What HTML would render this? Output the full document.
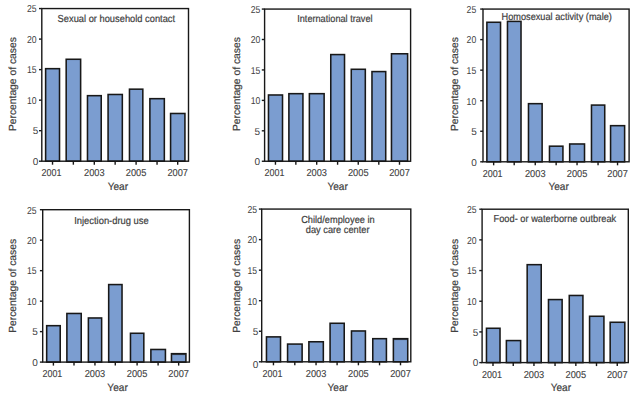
<!DOCTYPE html>
<html><head><meta charset="utf-8"><style>
html,body{margin:0;padding:0;background:#fff;width:641px;height:397px;overflow:hidden}
svg{display:block}
text{font-family:"Liberation Sans",sans-serif;text-rendering:geometricPrecision;fill:#404040;stroke:#404040;stroke-width:0.2px}
.t{stroke-width:0px}
.tx{stroke-width:0.12px}
</style></head><body>
<svg width="641" height="397" viewBox="0 0 641 397">

<rect x="45.62" y="68.67" width="13.9" height="92.52" fill="#7b9dd0" stroke="#181818" stroke-width="1.55"/>
<rect x="66.18" y="59.27" width="14.45" height="101.92" fill="#7b9dd0" stroke="#181818" stroke-width="1.55"/>
<rect x="87.48" y="95.67" width="13.75" height="65.52" fill="#7b9dd0" stroke="#181818" stroke-width="1.55"/>
<rect x="108.08" y="94.48" width="14.25" height="66.72" fill="#7b9dd0" stroke="#181818" stroke-width="1.55"/>
<rect x="129.47" y="89.17" width="13.35" height="72.02" fill="#7b9dd0" stroke="#181818" stroke-width="1.55"/>
<rect x="149.88" y="98.67" width="14.45" height="62.52" fill="#7b9dd0" stroke="#181818" stroke-width="1.55"/>
<rect x="170.58" y="113.48" width="14.35" height="47.72" fill="#7b9dd0" stroke="#181818" stroke-width="1.55"/>
<rect x="41.8" y="8.56" width="146.7" height="152.64" fill="none" stroke="#181818" stroke-width="1.4"/>
<line x1="39" y1="161.2" x2="41.8" y2="161.2" stroke="#181818" stroke-width="1.4"/>
<text class="t" x="38.2" y="165" font-size="10.0" text-anchor="end">0</text>
<line x1="39" y1="130.67" x2="41.8" y2="130.67" stroke="#181818" stroke-width="1.4"/>
<text class="t" x="38.2" y="134.47" font-size="10.0" text-anchor="end">5</text>
<line x1="39" y1="100.14" x2="41.8" y2="100.14" stroke="#181818" stroke-width="1.4"/>
<text class="t" x="36.6" y="103.94" font-size="10.0" text-anchor="end" textLength="9.6" lengthAdjust="spacingAndGlyphs">10</text>
<line x1="39" y1="69.62" x2="41.8" y2="69.62" stroke="#181818" stroke-width="1.4"/>
<text class="t" x="36.6" y="73.42" font-size="10.0" text-anchor="end" textLength="9.6" lengthAdjust="spacingAndGlyphs">15</text>
<line x1="39" y1="39.09" x2="41.8" y2="39.09" stroke="#181818" stroke-width="1.4"/>
<text class="t" x="36.6" y="42.89" font-size="10.0" text-anchor="end" textLength="9.6" lengthAdjust="spacingAndGlyphs">20</text>
<line x1="39" y1="8.56" x2="41.8" y2="8.56" stroke="#181818" stroke-width="1.4"/>
<text class="t" x="36.6" y="12.36" font-size="10.0" text-anchor="end" textLength="9.6" lengthAdjust="spacingAndGlyphs">25</text>
<line x1="52.53" y1="161.2" x2="52.53" y2="164.7" stroke="#181818" stroke-width="1.4"/>
<text class="tx" x="51.53" y="176.2" font-size="10" text-anchor="middle" textLength="19.9" lengthAdjust="spacingAndGlyphs">2001</text>
<line x1="73.35" y1="161.2" x2="73.35" y2="164.7" stroke="#181818" stroke-width="1.4"/>
<line x1="94.3" y1="161.2" x2="94.3" y2="164.7" stroke="#181818" stroke-width="1.4"/>
<text class="tx" x="94.3" y="176.2" font-size="10" text-anchor="middle" textLength="20.6" lengthAdjust="spacingAndGlyphs">2003</text>
<line x1="115.15" y1="161.2" x2="115.15" y2="164.7" stroke="#181818" stroke-width="1.4"/>
<line x1="136.1" y1="161.2" x2="136.1" y2="164.7" stroke="#181818" stroke-width="1.4"/>
<text class="tx" x="136.1" y="176.2" font-size="10" text-anchor="middle" textLength="20.6" lengthAdjust="spacingAndGlyphs">2005</text>
<line x1="157.05" y1="161.2" x2="157.05" y2="164.7" stroke="#181818" stroke-width="1.4"/>
<line x1="177.7" y1="161.2" x2="177.7" y2="164.7" stroke="#181818" stroke-width="1.4"/>
<text class="tx" x="177.7" y="176.2" font-size="10" text-anchor="middle" textLength="20.6" lengthAdjust="spacingAndGlyphs">2007</text>
<text x="117.9" y="189.5" font-size="10.6" text-anchor="middle" textLength="20.4" lengthAdjust="spacingAndGlyphs">Year</text>
<text transform="translate(15.6,131.1) rotate(-90)" font-size="10.3">Percentage of cases</text>
<text x="57.6" y="22" font-size="10.2" textLength="117.5" lengthAdjust="spacingAndGlyphs">Sexual or household contact</text>
<rect x="268.47" y="94.98" width="14.05" height="66.27" fill="#7b9dd0" stroke="#181818" stroke-width="1.55"/>
<rect x="288.88" y="93.67" width="14.05" height="67.58" fill="#7b9dd0" stroke="#181818" stroke-width="1.55"/>
<rect x="309.38" y="93.67" width="14.75" height="67.58" fill="#7b9dd0" stroke="#181818" stroke-width="1.55"/>
<rect x="330.77" y="54.57" width="13.75" height="106.67" fill="#7b9dd0" stroke="#181818" stroke-width="1.55"/>
<rect x="351.27" y="69.28" width="14.05" height="91.97" fill="#7b9dd0" stroke="#181818" stroke-width="1.55"/>
<rect x="371.97" y="71.58" width="13.75" height="89.67" fill="#7b9dd0" stroke="#181818" stroke-width="1.55"/>
<rect x="391.47" y="53.77" width="16.15" height="107.47" fill="#7b9dd0" stroke="#181818" stroke-width="1.55"/>
<rect x="264.6" y="9.07" width="146" height="152.18" fill="none" stroke="#181818" stroke-width="1.4"/>
<line x1="261.8" y1="161.25" x2="264.6" y2="161.25" stroke="#181818" stroke-width="1.4"/>
<text class="t" x="260" y="165.05" font-size="10.0" text-anchor="end">0</text>
<line x1="261.8" y1="130.81" x2="264.6" y2="130.81" stroke="#181818" stroke-width="1.4"/>
<text class="t" x="260" y="134.61" font-size="10.0" text-anchor="end">5</text>
<line x1="261.8" y1="100.38" x2="264.6" y2="100.38" stroke="#181818" stroke-width="1.4"/>
<text class="t" x="260.4" y="104.18" font-size="10.0" text-anchor="end" textLength="9.6" lengthAdjust="spacingAndGlyphs">10</text>
<line x1="261.8" y1="69.94" x2="264.6" y2="69.94" stroke="#181818" stroke-width="1.4"/>
<text class="t" x="260.4" y="73.74" font-size="10.0" text-anchor="end" textLength="9.6" lengthAdjust="spacingAndGlyphs">15</text>
<line x1="261.8" y1="39.51" x2="264.6" y2="39.51" stroke="#181818" stroke-width="1.4"/>
<text class="t" x="260.4" y="43.31" font-size="10.0" text-anchor="end" textLength="9.6" lengthAdjust="spacingAndGlyphs">20</text>
<line x1="261.8" y1="9.07" x2="264.6" y2="9.07" stroke="#181818" stroke-width="1.4"/>
<text class="t" x="260.4" y="12.87" font-size="10.0" text-anchor="end" textLength="9.6" lengthAdjust="spacingAndGlyphs">25</text>
<line x1="275.45" y1="161.25" x2="275.45" y2="164.75" stroke="#181818" stroke-width="1.4"/>
<text class="tx" x="274.45" y="176.25" font-size="10" text-anchor="middle" textLength="19.9" lengthAdjust="spacingAndGlyphs">2001</text>
<line x1="295.85" y1="161.25" x2="295.85" y2="164.75" stroke="#181818" stroke-width="1.4"/>
<line x1="316.7" y1="161.25" x2="316.7" y2="164.75" stroke="#181818" stroke-width="1.4"/>
<text class="tx" x="316.7" y="176.25" font-size="10" text-anchor="middle" textLength="20.6" lengthAdjust="spacingAndGlyphs">2003</text>
<line x1="337.6" y1="161.25" x2="337.6" y2="164.75" stroke="#181818" stroke-width="1.4"/>
<line x1="358.25" y1="161.25" x2="358.25" y2="164.75" stroke="#181818" stroke-width="1.4"/>
<text class="tx" x="358.25" y="176.25" font-size="10" text-anchor="middle" textLength="20.6" lengthAdjust="spacingAndGlyphs">2005</text>
<line x1="378.8" y1="161.25" x2="378.8" y2="164.75" stroke="#181818" stroke-width="1.4"/>
<line x1="399.5" y1="161.25" x2="399.5" y2="164.75" stroke="#181818" stroke-width="1.4"/>
<text class="tx" x="399.5" y="176.25" font-size="10" text-anchor="middle" textLength="20.6" lengthAdjust="spacingAndGlyphs">2007</text>
<text x="337.6" y="189.5" font-size="10.6" text-anchor="middle" textLength="20.4" lengthAdjust="spacingAndGlyphs">Year</text>
<text transform="translate(240.4,131.1) rotate(-90)" font-size="10.3">Percentage of cases</text>
<text x="297.2" y="22.4" font-size="10.2" textLength="75.4" lengthAdjust="spacingAndGlyphs">International travel</text>
<rect x="486.88" y="22.27" width="13.65" height="139.53" fill="#7b9dd0" stroke="#181818" stroke-width="1.55"/>
<rect x="507.47" y="21.38" width="13.55" height="140.43" fill="#7b9dd0" stroke="#181818" stroke-width="1.55"/>
<rect x="528.48" y="103.67" width="13.65" height="58.13" fill="#7b9dd0" stroke="#181818" stroke-width="1.55"/>
<rect x="549.48" y="146.18" width="13.45" height="15.63" fill="#7b9dd0" stroke="#181818" stroke-width="1.55"/>
<rect x="569.67" y="143.98" width="14.85" height="17.82" fill="#7b9dd0" stroke="#181818" stroke-width="1.55"/>
<rect x="591.48" y="105.08" width="13.25" height="56.73" fill="#7b9dd0" stroke="#181818" stroke-width="1.55"/>
<rect x="610.57" y="125.67" width="14.05" height="36.13" fill="#7b9dd0" stroke="#181818" stroke-width="1.55"/>
<rect x="483" y="9.07" width="146.1" height="152.73" fill="none" stroke="#181818" stroke-width="1.4"/>
<line x1="480.2" y1="161.8" x2="483" y2="161.8" stroke="#181818" stroke-width="1.4"/>
<text class="t" x="476.8" y="165.6" font-size="10.0" text-anchor="end">0</text>
<line x1="480.2" y1="131.25" x2="483" y2="131.25" stroke="#181818" stroke-width="1.4"/>
<text class="t" x="476.8" y="135.05" font-size="10.0" text-anchor="end">5</text>
<line x1="480.2" y1="100.71" x2="483" y2="100.71" stroke="#181818" stroke-width="1.4"/>
<text class="t" x="476.2" y="104.51" font-size="10.0" text-anchor="end" textLength="9.6" lengthAdjust="spacingAndGlyphs">10</text>
<line x1="480.2" y1="70.16" x2="483" y2="70.16" stroke="#181818" stroke-width="1.4"/>
<text class="t" x="476.2" y="73.96" font-size="10.0" text-anchor="end" textLength="9.6" lengthAdjust="spacingAndGlyphs">15</text>
<line x1="480.2" y1="39.62" x2="483" y2="39.62" stroke="#181818" stroke-width="1.4"/>
<text class="t" x="476.2" y="43.42" font-size="10.0" text-anchor="end" textLength="9.6" lengthAdjust="spacingAndGlyphs">20</text>
<line x1="480.2" y1="9.07" x2="483" y2="9.07" stroke="#181818" stroke-width="1.4"/>
<text class="t" x="476.2" y="12.87" font-size="10.0" text-anchor="end" textLength="9.6" lengthAdjust="spacingAndGlyphs">25</text>
<line x1="493.65" y1="161.8" x2="493.65" y2="165.3" stroke="#181818" stroke-width="1.4"/>
<text class="tx" x="492.65" y="176.8" font-size="10" text-anchor="middle" textLength="19.9" lengthAdjust="spacingAndGlyphs">2001</text>
<line x1="514.2" y1="161.8" x2="514.2" y2="165.3" stroke="#181818" stroke-width="1.4"/>
<line x1="535.25" y1="161.8" x2="535.25" y2="165.3" stroke="#181818" stroke-width="1.4"/>
<text class="tx" x="535.25" y="176.8" font-size="10" text-anchor="middle" textLength="20.6" lengthAdjust="spacingAndGlyphs">2003</text>
<line x1="556.15" y1="161.8" x2="556.15" y2="165.3" stroke="#181818" stroke-width="1.4"/>
<line x1="577.05" y1="161.8" x2="577.05" y2="165.3" stroke="#181818" stroke-width="1.4"/>
<text class="tx" x="577.05" y="176.8" font-size="10" text-anchor="middle" textLength="20.6" lengthAdjust="spacingAndGlyphs">2005</text>
<line x1="598.05" y1="161.8" x2="598.05" y2="165.3" stroke="#181818" stroke-width="1.4"/>
<line x1="617.55" y1="161.8" x2="617.55" y2="165.3" stroke="#181818" stroke-width="1.4"/>
<text class="tx" x="617.55" y="176.8" font-size="10" text-anchor="middle" textLength="20.6" lengthAdjust="spacingAndGlyphs">2007</text>
<text x="558.65" y="189.5" font-size="10.6" text-anchor="middle" textLength="20.4" lengthAdjust="spacingAndGlyphs">Year</text>
<text transform="translate(457.7,131.1) rotate(-90)" font-size="10.3">Percentage of cases</text>
<text x="501.5" y="20" font-size="10.2" textLength="110.4" lengthAdjust="spacingAndGlyphs">Homosexual activity (male)</text>
<rect x="46.67" y="325.68" width="13.55" height="36.42" fill="#7b9dd0" stroke="#181818" stroke-width="1.55"/>
<rect x="66.88" y="313.47" width="14.35" height="48.63" fill="#7b9dd0" stroke="#181818" stroke-width="1.55"/>
<rect x="88.38" y="317.97" width="13.25" height="44.13" fill="#7b9dd0" stroke="#181818" stroke-width="1.55"/>
<rect x="108.68" y="284.57" width="13.35" height="77.53" fill="#7b9dd0" stroke="#181818" stroke-width="1.55"/>
<rect x="130.47" y="333.27" width="13.35" height="28.83" fill="#7b9dd0" stroke="#181818" stroke-width="1.55"/>
<rect x="150.88" y="349.47" width="14.55" height="12.63" fill="#7b9dd0" stroke="#181818" stroke-width="1.55"/>
<rect x="171.47" y="353.68" width="14.45" height="8.42" fill="#7b9dd0" stroke="#181818" stroke-width="1.55"/>
<rect x="172.25" y="354.35" width="12.9" height="0.7" fill="#181818"/>
<rect x="42.7" y="209.7" width="146.7" height="152.4" fill="none" stroke="#181818" stroke-width="1.4"/>
<line x1="39.9" y1="362.1" x2="42.7" y2="362.1" stroke="#181818" stroke-width="1.4"/>
<text class="t" x="37.8" y="365.9" font-size="10.0" text-anchor="end">0</text>
<line x1="39.9" y1="331.62" x2="42.7" y2="331.62" stroke="#181818" stroke-width="1.4"/>
<text class="t" x="37.8" y="335.42" font-size="10.0" text-anchor="end">5</text>
<line x1="39.9" y1="301.14" x2="42.7" y2="301.14" stroke="#181818" stroke-width="1.4"/>
<text class="t" x="36.5" y="304.94" font-size="10.0" text-anchor="end" textLength="9.6" lengthAdjust="spacingAndGlyphs">10</text>
<line x1="39.9" y1="270.66" x2="42.7" y2="270.66" stroke="#181818" stroke-width="1.4"/>
<text class="t" x="36.5" y="274.46" font-size="10.0" text-anchor="end" textLength="9.6" lengthAdjust="spacingAndGlyphs">15</text>
<line x1="39.9" y1="240.18" x2="42.7" y2="240.18" stroke="#181818" stroke-width="1.4"/>
<text class="t" x="36.5" y="243.98" font-size="10.0" text-anchor="end" textLength="9.6" lengthAdjust="spacingAndGlyphs">20</text>
<line x1="39.9" y1="209.7" x2="42.7" y2="209.7" stroke="#181818" stroke-width="1.4"/>
<text class="t" x="36.5" y="213.5" font-size="10.0" text-anchor="end" textLength="9.6" lengthAdjust="spacingAndGlyphs">25</text>
<line x1="53.4" y1="362.1" x2="53.4" y2="365.6" stroke="#181818" stroke-width="1.4"/>
<text class="tx" x="52.4" y="377.1" font-size="10" text-anchor="middle" textLength="19.9" lengthAdjust="spacingAndGlyphs">2001</text>
<line x1="74" y1="362.1" x2="74" y2="365.6" stroke="#181818" stroke-width="1.4"/>
<line x1="94.95" y1="362.1" x2="94.95" y2="365.6" stroke="#181818" stroke-width="1.4"/>
<text class="tx" x="94.95" y="377.1" font-size="10" text-anchor="middle" textLength="20.6" lengthAdjust="spacingAndGlyphs">2003</text>
<line x1="115.3" y1="362.1" x2="115.3" y2="365.6" stroke="#181818" stroke-width="1.4"/>
<line x1="137.1" y1="362.1" x2="137.1" y2="365.6" stroke="#181818" stroke-width="1.4"/>
<text class="tx" x="137.1" y="377.1" font-size="10" text-anchor="middle" textLength="20.6" lengthAdjust="spacingAndGlyphs">2005</text>
<line x1="158.1" y1="362.1" x2="158.1" y2="365.6" stroke="#181818" stroke-width="1.4"/>
<line x1="178.65" y1="362.1" x2="178.65" y2="365.6" stroke="#181818" stroke-width="1.4"/>
<text class="tx" x="178.65" y="377.1" font-size="10" text-anchor="middle" textLength="20.6" lengthAdjust="spacingAndGlyphs">2007</text>
<text x="117.55" y="390.8" font-size="10.6" text-anchor="middle" textLength="20.4" lengthAdjust="spacingAndGlyphs">Year</text>
<text transform="translate(15.7,332.8) rotate(-90)" font-size="10.3">Percentage of cases</text>
<text x="74.2" y="224" font-size="10.2" textLength="74.5" lengthAdjust="spacingAndGlyphs">Injection-drug use</text>
<rect x="266.47" y="336.88" width="14.05" height="24.92" fill="#7b9dd0" stroke="#181818" stroke-width="1.55"/>
<rect x="287.57" y="344.07" width="14.55" height="17.73" fill="#7b9dd0" stroke="#181818" stroke-width="1.55"/>
<rect x="308.88" y="341.77" width="14.45" height="20.03" fill="#7b9dd0" stroke="#181818" stroke-width="1.55"/>
<rect x="330.07" y="323.27" width="14.15" height="38.53" fill="#7b9dd0" stroke="#181818" stroke-width="1.55"/>
<rect x="351.47" y="330.97" width="13.95" height="30.83" fill="#7b9dd0" stroke="#181818" stroke-width="1.55"/>
<rect x="372.77" y="338.68" width="13.65" height="23.12" fill="#7b9dd0" stroke="#181818" stroke-width="1.55"/>
<rect x="393.38" y="338.68" width="14.35" height="23.12" fill="#7b9dd0" stroke="#181818" stroke-width="1.55"/>
<rect x="394.15" y="339.35" width="12.8" height="0.7" fill="#181818"/>
<rect x="261.7" y="209.07" width="149.1" height="152.73" fill="none" stroke="#181818" stroke-width="1.4"/>
<line x1="258.9" y1="361.8" x2="261.7" y2="361.8" stroke="#181818" stroke-width="1.4"/>
<text class="t" x="258.3" y="367.8" font-size="10.0" text-anchor="end">0</text>
<line x1="258.9" y1="331.25" x2="261.7" y2="331.25" stroke="#181818" stroke-width="1.4"/>
<text class="t" x="258.3" y="335.05" font-size="10.0" text-anchor="end">5</text>
<line x1="258.9" y1="300.71" x2="261.7" y2="300.71" stroke="#181818" stroke-width="1.4"/>
<text class="t" x="257.1" y="304.51" font-size="10.0" text-anchor="end" textLength="9.6" lengthAdjust="spacingAndGlyphs">10</text>
<line x1="258.9" y1="270.16" x2="261.7" y2="270.16" stroke="#181818" stroke-width="1.4"/>
<text class="t" x="257.1" y="273.96" font-size="10.0" text-anchor="end" textLength="9.6" lengthAdjust="spacingAndGlyphs">15</text>
<line x1="258.9" y1="239.62" x2="261.7" y2="239.62" stroke="#181818" stroke-width="1.4"/>
<text class="t" x="257.1" y="243.42" font-size="10.0" text-anchor="end" textLength="9.6" lengthAdjust="spacingAndGlyphs">20</text>
<line x1="258.9" y1="209.07" x2="261.7" y2="209.07" stroke="#181818" stroke-width="1.4"/>
<text class="t" x="257.1" y="212.87" font-size="10.0" text-anchor="end" textLength="9.6" lengthAdjust="spacingAndGlyphs">25</text>
<line x1="273.45" y1="361.8" x2="273.45" y2="365.3" stroke="#181818" stroke-width="1.4"/>
<text class="tx" x="272.45" y="376.8" font-size="10" text-anchor="middle" textLength="19.9" lengthAdjust="spacingAndGlyphs">2001</text>
<line x1="294.8" y1="361.8" x2="294.8" y2="365.3" stroke="#181818" stroke-width="1.4"/>
<line x1="316.05" y1="361.8" x2="316.05" y2="365.3" stroke="#181818" stroke-width="1.4"/>
<text class="tx" x="316.05" y="376.8" font-size="10" text-anchor="middle" textLength="20.6" lengthAdjust="spacingAndGlyphs">2003</text>
<line x1="337.1" y1="361.8" x2="337.1" y2="365.3" stroke="#181818" stroke-width="1.4"/>
<line x1="358.4" y1="361.8" x2="358.4" y2="365.3" stroke="#181818" stroke-width="1.4"/>
<text class="tx" x="358.4" y="376.8" font-size="10" text-anchor="middle" textLength="20.6" lengthAdjust="spacingAndGlyphs">2005</text>
<line x1="379.55" y1="361.8" x2="379.55" y2="365.3" stroke="#181818" stroke-width="1.4"/>
<line x1="400.5" y1="361.8" x2="400.5" y2="365.3" stroke="#181818" stroke-width="1.4"/>
<text class="tx" x="400.5" y="376.8" font-size="10" text-anchor="middle" textLength="20.6" lengthAdjust="spacingAndGlyphs">2007</text>
<text x="337.75" y="390.8" font-size="10.6" text-anchor="middle" textLength="20.4" lengthAdjust="spacingAndGlyphs">Year</text>
<text transform="translate(240,332.8) rotate(-90)" font-size="10.3">Percentage of cases</text>
<text x="301.2" y="223.2" font-size="10.2" textLength="73.5" lengthAdjust="spacingAndGlyphs">Child/employee in</text>
<text x="305.8" y="233.3" font-size="10.2" textLength="63.7" lengthAdjust="spacingAndGlyphs">day care center</text>
<rect x="486.47" y="328.27" width="13.55" height="34.33" fill="#7b9dd0" stroke="#181818" stroke-width="1.55"/>
<rect x="506.38" y="340.57" width="14.25" height="22.03" fill="#7b9dd0" stroke="#181818" stroke-width="1.55"/>
<rect x="527.17" y="264.67" width="14.05" height="97.93" fill="#7b9dd0" stroke="#181818" stroke-width="1.55"/>
<rect x="548.48" y="299.57" width="13.65" height="63.03" fill="#7b9dd0" stroke="#181818" stroke-width="1.55"/>
<rect x="569.27" y="295.47" width="13.65" height="67.13" fill="#7b9dd0" stroke="#181818" stroke-width="1.55"/>
<rect x="589.57" y="316.27" width="14.35" height="46.33" fill="#7b9dd0" stroke="#181818" stroke-width="1.55"/>
<rect x="610.17" y="322.27" width="14.65" height="40.33" fill="#7b9dd0" stroke="#181818" stroke-width="1.55"/>
<rect x="482.1" y="209.2" width="146.2" height="153.4" fill="none" stroke="#181818" stroke-width="1.4"/>
<line x1="479.3" y1="362.6" x2="482.1" y2="362.6" stroke="#181818" stroke-width="1.4"/>
<text class="t" x="478.3" y="366.4" font-size="10.0" text-anchor="end">0</text>
<line x1="479.3" y1="331.92" x2="482.1" y2="331.92" stroke="#181818" stroke-width="1.4"/>
<text class="t" x="478.3" y="335.72" font-size="10.0" text-anchor="end">5</text>
<line x1="479.3" y1="301.24" x2="482.1" y2="301.24" stroke="#181818" stroke-width="1.4"/>
<text class="t" x="476.5" y="305.04" font-size="10.0" text-anchor="end" textLength="9.6" lengthAdjust="spacingAndGlyphs">10</text>
<line x1="479.3" y1="270.56" x2="482.1" y2="270.56" stroke="#181818" stroke-width="1.4"/>
<text class="t" x="476.5" y="274.36" font-size="10.0" text-anchor="end" textLength="9.6" lengthAdjust="spacingAndGlyphs">15</text>
<line x1="479.3" y1="239.88" x2="482.1" y2="239.88" stroke="#181818" stroke-width="1.4"/>
<text class="t" x="476.5" y="243.68" font-size="10.0" text-anchor="end" textLength="9.6" lengthAdjust="spacingAndGlyphs">20</text>
<line x1="479.3" y1="209.2" x2="482.1" y2="209.2" stroke="#181818" stroke-width="1.4"/>
<text class="t" x="476.5" y="213" font-size="10.0" text-anchor="end" textLength="9.6" lengthAdjust="spacingAndGlyphs">25</text>
<line x1="493" y1="362.6" x2="493" y2="366.1" stroke="#181818" stroke-width="1.4"/>
<text class="tx" x="492" y="377.6" font-size="10" text-anchor="middle" textLength="19.9" lengthAdjust="spacingAndGlyphs">2001</text>
<line x1="513.25" y1="362.6" x2="513.25" y2="366.1" stroke="#181818" stroke-width="1.4"/>
<line x1="533.95" y1="362.6" x2="533.95" y2="366.1" stroke="#181818" stroke-width="1.4"/>
<text class="tx" x="533.95" y="377.6" font-size="10" text-anchor="middle" textLength="20.6" lengthAdjust="spacingAndGlyphs">2003</text>
<line x1="555.05" y1="362.6" x2="555.05" y2="366.1" stroke="#181818" stroke-width="1.4"/>
<line x1="575.85" y1="362.6" x2="575.85" y2="366.1" stroke="#181818" stroke-width="1.4"/>
<text class="tx" x="575.85" y="377.6" font-size="10" text-anchor="middle" textLength="20.6" lengthAdjust="spacingAndGlyphs">2005</text>
<line x1="596.5" y1="362.6" x2="596.5" y2="366.1" stroke="#181818" stroke-width="1.4"/>
<line x1="617.25" y1="362.6" x2="617.25" y2="366.1" stroke="#181818" stroke-width="1.4"/>
<text class="tx" x="617.25" y="377.6" font-size="10" text-anchor="middle" textLength="20.6" lengthAdjust="spacingAndGlyphs">2007</text>
<text x="560.9" y="390.8" font-size="10.6" text-anchor="middle" textLength="20.4" lengthAdjust="spacingAndGlyphs">Year</text>
<text transform="translate(457.7,332.8) rotate(-90)" font-size="10.3">Percentage of cases</text>
<text x="493.5" y="221.6" font-size="10.2" textLength="122.7" lengthAdjust="spacingAndGlyphs">Food- or waterborne outbreak</text>
</svg></body></html>
